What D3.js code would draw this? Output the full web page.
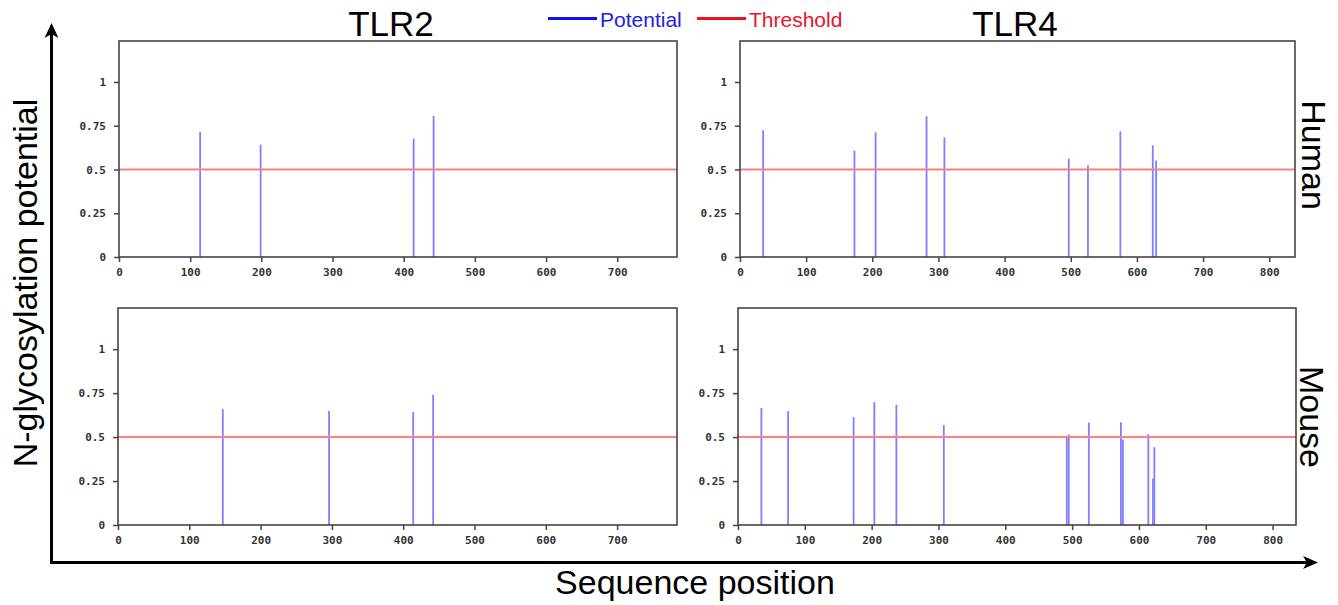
<!DOCTYPE html>
<html>
<head>
<meta charset="utf-8">
<script src="https://cdn.jsdelivr.net/npm/d3@7"></script>
<style>
  body { margin: 0; background: #fff; }
  .tick text { font-family: "DejaVu Sans Mono", monospace; font-size: 11px; font-weight: bold; fill: #333; }
  .tick line { stroke: #444; stroke-width: 1.5; }
  .big { font-family: "Liberation Sans", Arial, sans-serif; fill: #000; }
</style>
</head>
<body>
<div id="chart"></div>
<script>
// N-glycosylation sites (position) and potential
const tlr2HumanPos = [114, 199, 414, 442]
const tlr2HumanVal = [0.715, 0.642, 0.676, 0.807]
const tlr4HumanPos = [35, 173, 205, 282, 309, 497, 526, 575, 624, 629]
const tlr4HumanVal = [0.724, 0.608, 0.712, 0.804, 0.683, 0.562, 0.524, 0.718, 0.637, 0.551]
const tlr2MousePos = [147, 296, 414, 442]
const tlr2MouseVal = [0.660, 0.648, 0.642, 0.740]
const tlr4MousePos = [35, 75, 173, 204, 237, 308, 492, 495, 525, 573, 576, 614, 621, 623]
const tlr4MouseVal = [0.665, 0.648, 0.614, 0.698, 0.683, 0.568, 0.503, 0.514, 0.583, 0.585, 0.486, 0.516, 0.264, 0.442]

const seqLength = {tlr2Human: 784, tlr4Human: 839, tlr2Mouse: 784, tlr4Mouse: 835}
const threshold = 0.5
const yTicks = [0, 0.25, 0.5, 0.75, 1]
const xTicks2 = [0, 100, 200, 300, 400, 500, 600, 700]
const xTicks4 = [0, 100, 200, 300, 400, 500, 600, 700, 800]
const columnTitles = ["TLR2", "TLR4"]
const rowTitles = ["Human", "Mouse"]
const legendLabels = ["Potential", "Threshold"]

const W = 1338, H = 605
const svg = d3.select("#chart").append("svg")
  .attr("width", W)
  .attr("height", H)

const zip = (p, v) => p.map((d, i) => ({pos: d, val: v[i]}))

// panel boxes (left, right, top, bottom in px)
const panels = [
  {box: [119, 677, 41, 257], len: seqLength.tlr2Human, ticks: xTicks2, data: zip(tlr2HumanPos, tlr2HumanVal)},
  {box: [740, 1295, 41, 257], len: seqLength.tlr4Human, ticks: xTicks4, data: zip(tlr4HumanPos, tlr4HumanVal)},
  {box: [118, 677, 308, 525], len: seqLength.tlr2Mouse, ticks: xTicks2, data: zip(tlr2MousePos, tlr2MouseVal)},
  {box: [738, 1296, 308, 525], len: seqLength.tlr4Mouse, ticks: xTicks4, data: zip(tlr4MousePos, tlr4MouseVal)}
]
const yMax = 1.234

panels.forEach(p => {
  const [x0, x1, y0, y1] = p.box
  const x = d3.scaleLinear().domain([0, p.len]).range([x0, x1])
  const y = d3.scaleLinear().domain([0, yMax]).range([y1, y0])
  const g = svg.append("g")

  g.append("g")
    .attr("transform", `translate(${x0},0)`)
    .call(d3.axisLeft(y).tickValues(yTicks).tickSize(5).tickPadding(8).tickFormat(d => String(d)))
    .call(s => s.select(".domain").remove())

  g.append("g")
    .attr("transform", `translate(0,${y1})`)
    .call(d3.axisBottom(x).tickValues(p.ticks).tickSize(5).tickPadding(6))
    .call(s => s.select(".domain").remove())

  // spikes
  g.selectAll("line.spike")
    .data(p.data)
    .join("line")
    .attr("class", "spike")
    .attr("x1", d => x(d.pos))
    .attr("x2", d => x(d.pos))
    .attr("y1", y(0))
    .attr("y2", d => y(d.val))
    .attr("stroke", "#7f7fff")
    .attr("stroke-width", 1.8)

  // threshold
  g.append("line")
    .attr("x1", x(0)).attr("x2", x(p.len))
    .attr("y1", y(threshold)).attr("y2", y(threshold))
    .attr("stroke", "#ff7f7f")
    .attr("stroke-width", 2)

  g.append("rect")
    .attr("x", x0).attr("y", y0)
    .attr("width", x1 - x0).attr("height", y1 - y0)
    .attr("fill", "none")
    .attr("stroke", "#444")
    .attr("stroke-width", 1.6)
})

// column + row titles
svg.selectAll("text.col")
  .data(columnTitles)
  .join("text")
  .attr("class", "col big")
  .attr("x", (d, i) => [391, 1015][i])
  .attr("y", 36)
  .attr("text-anchor", "middle")
  .attr("font-size", 35)
  .text(d => d)

svg.selectAll("text.row")
  .data(rowTitles)
  .join("text")
  .attr("class", "row big")
  .attr("transform", (d, i) => `translate(${[1302, 1300][i]},${[155, 417][i]}) rotate(90)`)
  .attr("text-anchor", "middle")
  .attr("font-size", 34)
  .text(d => d)

// legend
const legendColors = [["#1010e8", "#2020ea"], ["#f01020", "#e8142d"]]
const legendX = [548, 697]
legendLabels.forEach((lab, i) => {
  svg.append("line")
    .attr("x1", legendX[i]).attr("x2", legendX[i] + 49)
    .attr("y1", 18.5).attr("y2", 18.5)
    .attr("stroke", legendColors[i][0])
    .attr("stroke-width", 3)
  svg.append("text")
    .attr("class", "big")
    .attr("x", legendX[i] + 52)
    .attr("y", 26.5)
    .attr("font-size", 21)
    .style("fill", legendColors[i][1])
    .text(lab)
})

// big axis arrows
svg.append("line")
  .attr("x1", 51.5).attr("x2", 51.5)
  .attr("y1", 564).attr("y2", 32)
  .attr("stroke", "#000").attr("stroke-width", 3)
svg.append("path")
  .attr("d", "M51.5,23 L44.5,38 L51.5,34 L58.5,38 Z")
  .attr("fill", "#000")
svg.append("line")
  .attr("x1", 50).attr("x2", 1308)
  .attr("y1", 562.5).attr("y2", 562.5)
  .attr("stroke", "#000").attr("stroke-width", 3)
svg.append("path")
  .attr("d", "M1318,562.5 L1303,556 L1307,562.5 L1303,569 Z")
  .attr("fill", "#000")

svg.append("text")
  .attr("class", "big")
  .attr("transform", "translate(37,283) rotate(-90)")
  .attr("text-anchor", "middle")
  .attr("font-size", 34)
  .text("N-glycosylation potential")

svg.append("text")
  .attr("class", "big")
  .attr("x", 695)
  .attr("y", 594)
  .attr("text-anchor", "middle")
  .attr("font-size", 34)
  .text("Sequence position")
</script>
</body>
</html>
